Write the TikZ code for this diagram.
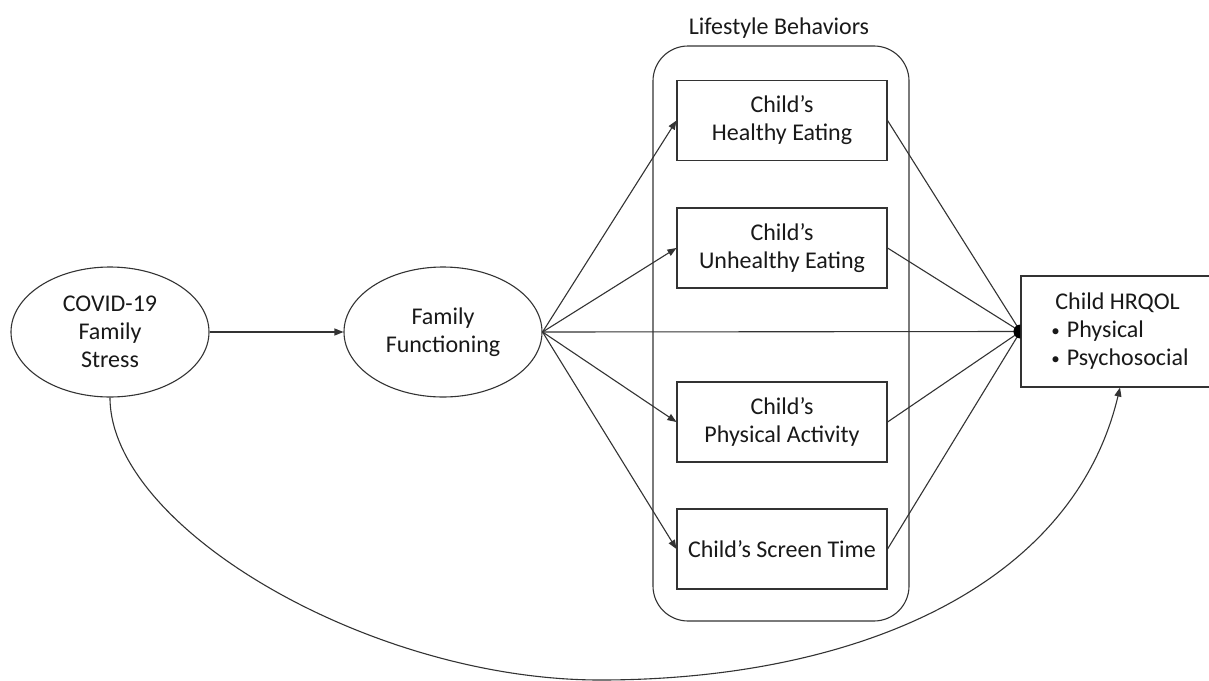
\documentclass[tikz,border=0pt]{standalone}
\usepackage{fontspec}
\setmainfont{Carlito}
\usetikzlibrary{shapes.geometric,arrows.meta}
\newcommand{\smbul}{\raisebox{1.5pt}{\fontsize{17}{17}\selectfont •}\hspace{7pt}}
\begin{document}
\begin{tikzpicture}[x=1pt,y=-1pt,
  every node/.style={font=\fontsize{24}{28}\selectfont, text=black!90},
  lnk/.style={line width=1.1pt, draw=black!80},
  arr/.style={lnk, -{Triangle[length=9pt,width=7pt]}},
  oval/.style={ellipse, draw=black!80, line width=1.1pt, minimum width=198pt, minimum height=130pt, inner sep=0pt, align=center},
  lbox/.style={rectangle, draw=black!80, line width=1.1pt, fill=white, minimum width=210pt, minimum height=80pt, inner sep=0pt, align=center}]
\useasboundingbox (0,0) rectangle (1209,680);
\fill[white] (0,0) rectangle (1209,680);
% container
\node[draw=black!80, line width=1.1pt, rounded corners=35pt, minimum width=256pt, minimum height=575pt, inner sep=0pt] (lb) at (781,333.5) {};
\node[anchor=base] (lbt) at (779,34) {Lifestyle Behaviors};
% nodes
\node[oval] (cov) at (110,332) {COVID-19\\Family\\Stress};
\node[oval] (ff) at (443,332) {Family\\Functioning};
\node[lbox] (b1) at (782,120.5) {Child’s\\Healthy Eating};
\node[lbox] (b2) at (782,248) {Child’s\\Unhealthy Eating};
\node[lbox] (b3) at (782,422) {Child’s\\Physical Activity};
\node[lbox] (b4) at (782,549) {Child’s Screen Time};
\node[rectangle, draw=black!80, line width=1.1pt, minimum width=198pt, minimum height=111pt, inner sep=0pt, align=left] (hq) at (1120,331.5) {\hspace{4pt}Child HRQOL\\\smbul Physical\\\smbul Psychosocial};
% connectors
\draw[arr] (cov.east) -- (ff.west);
\draw[arr] (ff.east) -- (b1.west);
\draw[arr] (ff.east) -- (b2.west);
\draw[arr] (ff.east) -- (b3.west);
\draw[arr] (ff.east) -- (b4.west);
\draw[lnk] (b1.east) -- (hq.west);
\draw[lnk] (b2.east) -- (hq.west);
\draw[lnk] (ff.east) -- (hq.west);
\draw[lnk] (b3.east) -- (hq.west);
\draw[lnk] (b4.east) -- (hq.west);
\fill[black] (hq.west) ++(0,-7) arc[start angle=90, end angle=270, radius=7pt] -- cycle;
\coordinate (bot) at (600,680);
\draw[arr] (cov.south) .. controls ++(0,130) and ++(-230,0) .. (bot)
  .. controls ++(250,0) and (1072,590) .. (hq.south);
\end{tikzpicture}
\end{document}
